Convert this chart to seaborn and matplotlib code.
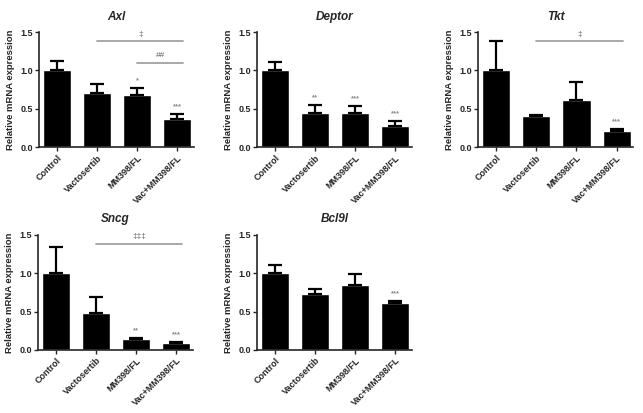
import numpy as np
import pandas as pd
import matplotlib
matplotlib.use("Agg")
import matplotlib.pyplot as plt
import seaborn as sns

sns.set_style("ticks")
plt.rcParams['font.family'] = ['Liberation Sans', 'DejaVu Sans']
plt.rcParams['font.weight'] = 'bold'

groups = ["Control", "Vactosertib", "MM398/FL", "Vac+MM398/FL"]
genes = ["Axl", "Deptor", "Tkt", "Sncg", "Bcl9l"]

# mean and upper error bar end (mean + SEM)
axl_mean = [1.00, 0.70, 0.68, 0.36]
axl_top = [1.12, 0.82, 0.77, 0.43]
deptor_mean = [1.00, 0.44, 0.45, 0.27]
deptor_top = [1.11, 0.55, 0.54, 0.34]
tkt_mean = [1.00, 0.40, 0.61, 0.21]
tkt_top = [1.38, 0.42, 0.85, 0.23]
sncg_mean = [1.00, 0.48, 0.14, 0.09]
sncg_top = [1.34, 0.69, 0.16, 0.10]
bcl9l_mean = [1.00, 0.73, 0.85, 0.61]
bcl9l_top = [1.11, 0.79, 0.99, 0.64]

# stars above bars vs control
axl_stars = ["", "", "*", "***"]
deptor_stars = ["", "**", "***", "***"]
tkt_stars = ["", "", "", "***"]
sncg_stars = ["", "", "**", "***"]
bcl9l_stars = ["", "", "", "***"]

# comparison lines: (start group, end group, y, label)
axl_lines = [(1, 3, 1.38, "\u2021"), (2, 3, 1.10, "##")]
tkt_lines = [(1, 3, 1.38, "\u2021")]
sncg_lines = [(1, 3, 1.38, "\u2021\u2021\u2021")]

means = [axl_mean, deptor_mean, tkt_mean, sncg_mean, bcl9l_mean]
tops = [axl_top, deptor_top, tkt_top, sncg_top, bcl9l_top]
stars = [axl_stars, deptor_stars, tkt_stars, sncg_stars, bcl9l_stars]
lines = [axl_lines, [], tkt_lines, sncg_lines, []]

df = pd.DataFrame({
    "gene": np.repeat(genes, len(groups)),
    "group": groups * len(genes),
    "mean": np.concatenate(means),
    "top": np.concatenate(tops),
})

fig = plt.figure(figsize=(6.43, 4.13), dpi=100)
lefts = [0.061, 0.400, 0.744, 0.059, 0.400]
bottoms = [0.644, 0.644, 0.644, 0.153, 0.153]

for i, gene in enumerate(genes):
    ax = fig.add_axes([lefts[i], bottoms[i], 0.241, 0.278])
    d = df[df["gene"] == gene]
    sns.barplot(data=d, x="group", y="mean", order=groups, color="black",
                errorbar=None, width=0.7, saturation=1, ax=ax)
    x = np.arange(len(groups))
    err = d["top"].values - d["mean"].values
    ax.errorbar(x, d["mean"].values, yerr=[np.zeros(len(x)), err], fmt="none",
                ecolor="black", elinewidth=1.6, capsize=5, capthick=1.6)
    for j, s in enumerate(stars[i]):
        if s:
            ax.text(j, d["top"].values[j] + 0.05, s, ha="center", va="bottom",
                    fontsize=5.5, color="#888888")
    for (a, b, yy, lab) in lines[i]:
        ax.plot([a, b + 0.15], [yy, yy], color="#999999", lw=1.2)
        ax.text((a + b + 0.15) / 2, yy + 0.05, lab, ha="center", va="bottom",
                fontsize=6, color="#888888")
    ax.set_xlim(-0.45, 3.42)
    ax.set_ylim(0, 1.5)
    ax.set_yticks([0.0, 0.5, 1.0, 1.5])
    ax.set_yticklabels(["0.0", "0.5", "1.0", "1.5"], fontsize=6.5, fontweight="bold")
    ax.set_xticks(x)
    ax.set_xticklabels(groups, rotation=45, ha="right", rotation_mode="anchor",
                       fontsize=6.5, fontweight="bold")
    ax.set_xlabel("")
    ax.set_ylabel("Relative mRNA expression", fontsize=6.8, fontweight="bold")
    ax.set_title(gene, fontsize=8.5, fontweight="bold", style="italic", pad=9)
    ax.tick_params(axis="both", length=3, width=1, pad=1.5)
    for sp in ["left", "bottom"]:
        ax.spines[sp].set_linewidth(1.2)
    sns.despine(ax=ax)

fig.savefig("out.png", dpi=100)
